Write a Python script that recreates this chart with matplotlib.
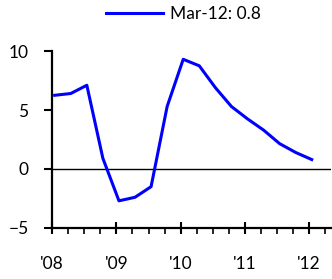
import numpy as np
import matplotlib
matplotlib.use("Agg")
import matplotlib.pyplot as plt
from matplotlib.ticker import MultipleLocator

# quarterly values, Mar-08 .. Mar-12
quarters = ["Mar-08", "Jun-08", "Sep-08", "Dec-08", "Mar-09", "Jun-09", "Sep-09", "Dec-09",
            "Mar-10", "Jun-10", "Sep-10", "Dec-10", "Mar-11", "Jun-11", "Sep-11", "Dec-11", "Mar-12"]
values = [6.25, 6.4, 7.1, 0.9, -2.7, -2.4, -1.5, 5.3, 9.3, 8.75, 6.9, 5.3, 4.25, 3.3, 2.15, 1.4, 0.8]
year_ticks = [2008, 2009, 2010, 2011, 2012]
year_labels = ["'08", "'09", "'10", "'11", "'12"]

x = 2008.04 + 0.25 * np.arange(len(values))

plt.rcParams['font.family'] = ['Lato', 'DejaVu Sans']

fig = plt.figure(figsize=(3.32, 2.79), dpi=100)
ax = fig.add_axes([0.157, 0.183, 0.84, 0.634])

ax.axhline(0, color="black", lw=1.0, zorder=1)
line, = ax.plot(x, values, color="#0000FF", lw=2.2, zorder=3,
                label=quarters[-1] + ": " + str(values[-1]))

ax.set_xlim(2008, 2012.34)
ax.set_ylim(-5, 10)
ax.set_yticks([-5, 0, 5, 10])
ax.set_xticks(year_ticks)
ax.set_xticklabels(year_labels)
ax.xaxis.set_minor_locator(MultipleLocator(0.25))

for s in ["top", "right"]:
    ax.spines[s].set_visible(False)
for s in ["left", "bottom"]:
    ax.spines[s].set_linewidth(1.6)

ax.tick_params(axis="y", direction="out", length=6, width=1.5, labelsize=12.5, pad=11)
ax.tick_params(axis="x", which="major", direction="inout", length=9, width=1.5, labelsize=12.5, pad=16)
ax.tick_params(axis="x", which="minor", direction="out", length=4, width=1.2)

fig.legend(handles=[line], loc="center", bbox_to_anchor=(0.553, 0.95), frameon=False,
           fontsize=12.5, handlelength=3.3, handletextpad=0.4)

plt.savefig("out.png", dpi=100)
